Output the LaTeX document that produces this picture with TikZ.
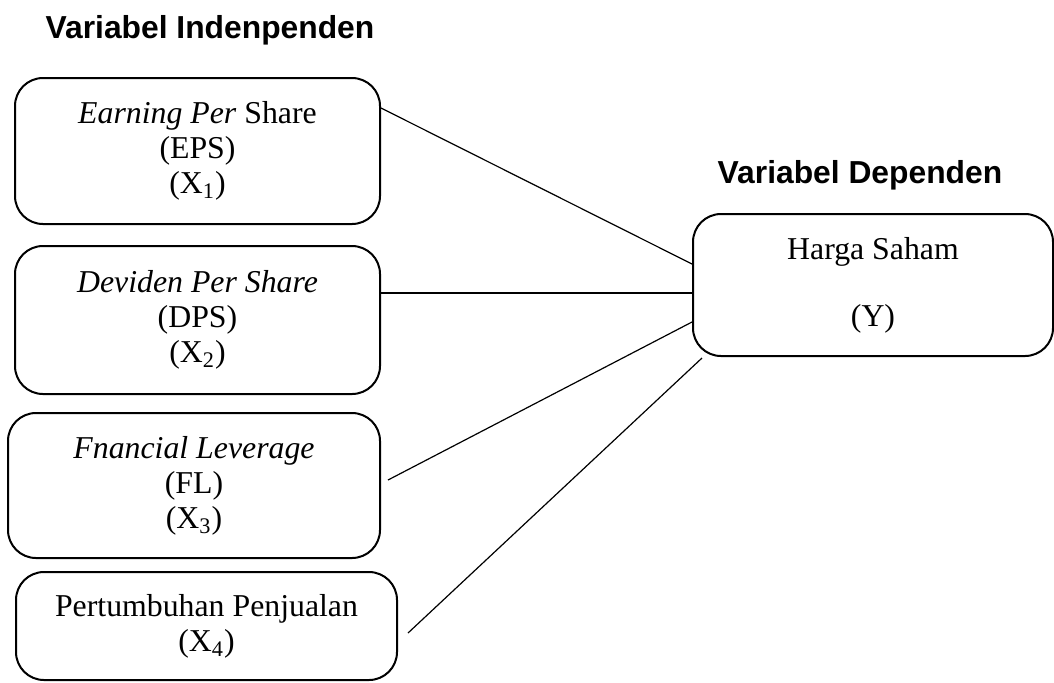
\documentclass[tikz,border=0pt]{standalone}
\usepackage{fontspec}
\setmainfont{Liberation Serif}
\newfontfamily\headfont{Liberation Sans}
\usetikzlibrary{positioning}
\tikzset{
var/.style={shape=rectangle, rounded corners=14pt, draw, line width=1pt, align=center, inner sep=0, font=\fontsize{15.9}{17.5}\selectfont}, dep/.style={var}, head/.style={font=\headfont\bfseries\fontsize{15.9}{18}\selectfont}}
\begin{document}
\begin{tikzpicture}[x=0.5pt, y=-0.5pt, line width=0.6pt]
\useasboundingbox (0,0) rectangle (1054,682);
\node [head] at (210,30) (judul-x) {Variabel Indenpenden};
\node [head] at (860,175) (judul-y) {Variabel Dependen};
\node [var, minimum width=182.5pt, minimum height=73pt] at (197.5,151) (x-1) {\textit{Earning Per} Share\\(EPS)\\(X\textsubscript{1})};
\node [var, minimum width=182.5pt, minimum height=74pt] at (197.5,320) (x-2) {\textit{Deviden Per Share}\\(DPS)\\(X\textsubscript{2})};
\node [var, minimum width=186pt, minimum height=72.5pt] at (194,485.5) (x-3) {\textit{Fnancial Leverage}\\(FL)\\(X\textsubscript{3})};
\node [var, minimum width=190.5pt, minimum height=54pt] at (206.5,626) (x-4) {Pertumbuhan Penjualan\\(X\textsubscript{4})};
\node [dep, minimum width=180pt, minimum height=71pt] at (873,285) (y) {Harga Saham\\[16pt](Y)};
\draw ([yshift=21.5pt]x-1.east) -- ([yshift=10.5pt]y.west);
\draw ([yshift=13.5pt]x-2.east) -- ([yshift=-4pt]y.west);
\draw ([shift={(3.5pt,2.75pt)}]x-3.east) -- ([yshift=-18.5pt]y.west);
\draw ([shift={(5pt,-3.5pt)}]x-4.east) -- ([shift={(5pt,-0.5pt)}]y.south west);
\end{tikzpicture}
\end{document}
